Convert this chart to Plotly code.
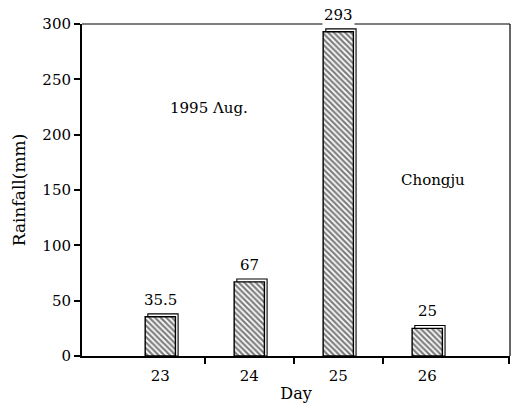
import plotly.graph_objects as go

days = [23, 24, 25, 26]
rainfall = [35.5, 67, 293, 25]
bar_labels = ["35.5", "67", "293", "25"]
y_ticks = [0, 50, 100, 150, 200, 250, 300]
x_minor_ticks = [23.5, 24.5, 25.5, 26.92]

FONT = "DejaVu Serif"
depth = 2.6  # y-units for pseudo-3D top face

fig = go.Figure()
# pseudo 3D back face
fig.add_trace(go.Bar(
    x=days, y=[v + depth for v in rainfall], width=0.34, offset=-0.14,
    marker=dict(color="white", line=dict(color="black", width=1.1)),
    hoverinfo="skip", showlegend=False,
))
fig.add_trace(go.Bar(
    x=days, y=rainfall, width=0.34, offset=-0.17,
    marker=dict(color="white", line=dict(color="black", width=1.4),
                pattern=dict(shape="\\", fgcolor="black", bgcolor="white",
                             size=4, solidity=0.55)),
    showlegend=False,
))

for d, v, t in zip(days, rainfall, bar_labels):
    fig.add_annotation(x=d, y=v, text=t, showarrow=False, yanchor="bottom",
                       yshift=6, bgcolor="white", borderpad=1,
                       font=dict(family=FONT, size=15, color="black"))

fig.add_annotation(x=23.55, y=224, text="1995 Λug.", showarrow=False,
                   font=dict(family=FONT, size=15, color="black"))
fig.add_annotation(x=26.07, y=159, text="Chongju", showarrow=False,
                   font=dict(family=FONT, size=15, color="black"))

# top and right frame (thin)
fig.add_shape(type="line", xref="paper", yref="paper", x0=0, x1=1, y0=1, y1=1,
              line=dict(color="black", width=1.2), layer="below")
fig.add_shape(type="line", xref="paper", yref="paper", x0=1, x1=1, y0=0, y1=1,
              line=dict(color="black", width=1.2), layer="below")

fig.update_layout(
    width=519, height=403,
    margin=dict(l=82, r=9, t=24, b=47),
    paper_bgcolor="white", plot_bgcolor="white",
    font=dict(family=FONT, size=15, color="black"),
    barmode="overlay",
    xaxis=dict(
        range=[22.12, 26.93], tickvals=days, ticktext=[str(d) for d in days],
        ticks="", showgrid=False, zeroline=False, automargin=False,
        showline=True, linecolor="black", linewidth=2,
        ticklabelstandoff=5,
        minor=dict(tickvals=x_minor_ticks, ticks="outside", ticklen=6,
                   tickcolor="black", tickwidth=1.5, showgrid=False),
        title=dict(text="Day", standoff=4, font=dict(family=FONT, size=16)),
        tickfont=dict(family=FONT, size=15),
    ),
    yaxis=dict(
        range=[0, 300], tickvals=y_ticks, ticks="outside", ticklen=6,
        tickwidth=1.5, tickcolor="black", showgrid=False, zeroline=False,
        automargin=False,
        showline=True, linecolor="black", linewidth=2,
        title=dict(text="Rainfall(mm)", standoff=12, font=dict(family=FONT, size=17)),
        tickfont=dict(family=FONT, size=15),
    ),
)

fig.write_html("out.html")
